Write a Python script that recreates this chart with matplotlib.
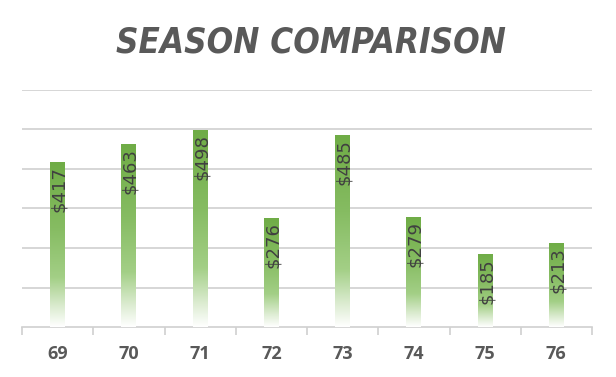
import numpy as np
import matplotlib
matplotlib.use("Agg")
import matplotlib.pyplot as plt
from matplotlib.colors import LinearSegmentedColormap

seasons = ["69", "70", "71", "72", "73", "74", "75", "76"]
revenue = [417, 463, 498, 276, 485, 279, 185, 213]
y_max = 600
grid_step = 100

# green at the top, fading out to white at the base
bar_cmap = LinearSegmentedColormap.from_list(
    "fade", [(0.0, "#ffffff"), (0.12, "#dcecd1"), (0.3, "#a3cf86"), (0.6, "#86bc62"), (1.0, "#6fac46")]
)

fig = plt.figure(figsize=(6.16, 3.77), dpi=100)
ax = fig.add_axes([22 / 616, 50 / 377, 570 / 616, 237 / 377])

x = np.arange(len(seasons))
bars = ax.bar(x, revenue, width=0.21, color="none", edgecolor="none", zorder=3)

grad = np.linspace(0, 1, 256).reshape(-1, 1)
for b in bars:
    x0, w, h = b.get_x(), b.get_width(), b.get_height()
    im = ax.imshow(grad, cmap=bar_cmap, origin="lower", aspect="auto",
                   extent=[x0, x0 + w, 0, h], zorder=3, interpolation="bilinear")
    im.set_clip_path(b)

for xi, v in zip(x, revenue):
    ax.annotate(f"${v}", (xi, v), xytext=(1, -3), textcoords="offset points",
                rotation=90, ha="center", va="top", fontsize=13,
                family="DejaVu Sans", color="#404040", zorder=4)

ax.set_xlim(-0.5, len(seasons) - 0.5)
ax.set_ylim(0, y_max)
ax.set_yticks(np.arange(grid_step, y_max + 1, grid_step))
ax.yaxis.grid(True, color="#d3d3d3", linewidth=1.3, zorder=0)
ax.tick_params(axis="y", left=False, labelleft=False)

# category ticks sit between the bars, labels in the middle
ax.set_xticks(np.arange(-0.5, len(seasons), 1.0))
ax.set_xticks(x, minor=True)
ax.set_xticklabels(seasons, minor=True)
ax.tick_params(axis="x", which="major", length=6, color="#d0d0d0", width=1.2, labelbottom=False)
ax.tick_params(axis="x", which="minor", length=0, pad=13, labelsize=13, labelcolor="#595959")
for lbl in ax.get_xticklabels(minor=True):
    lbl.set_fontweight("bold")
    lbl.set_family("Open Sans")

for side in ["top", "right", "left"]:
    ax.spines[side].set_visible(False)
ax.spines["bottom"].set_color("#d0d0d0")
ax.spines["bottom"].set_linewidth(1.2)

fig.text(0.505, 0.888, "SEASON COMPARISON", ha="center", va="center",
         fontsize=25, fontweight="bold", style="italic", family="DejaVu Sans",
         fontstretch="condensed", color="#595959")

fig.savefig("out.png", dpi=100)
